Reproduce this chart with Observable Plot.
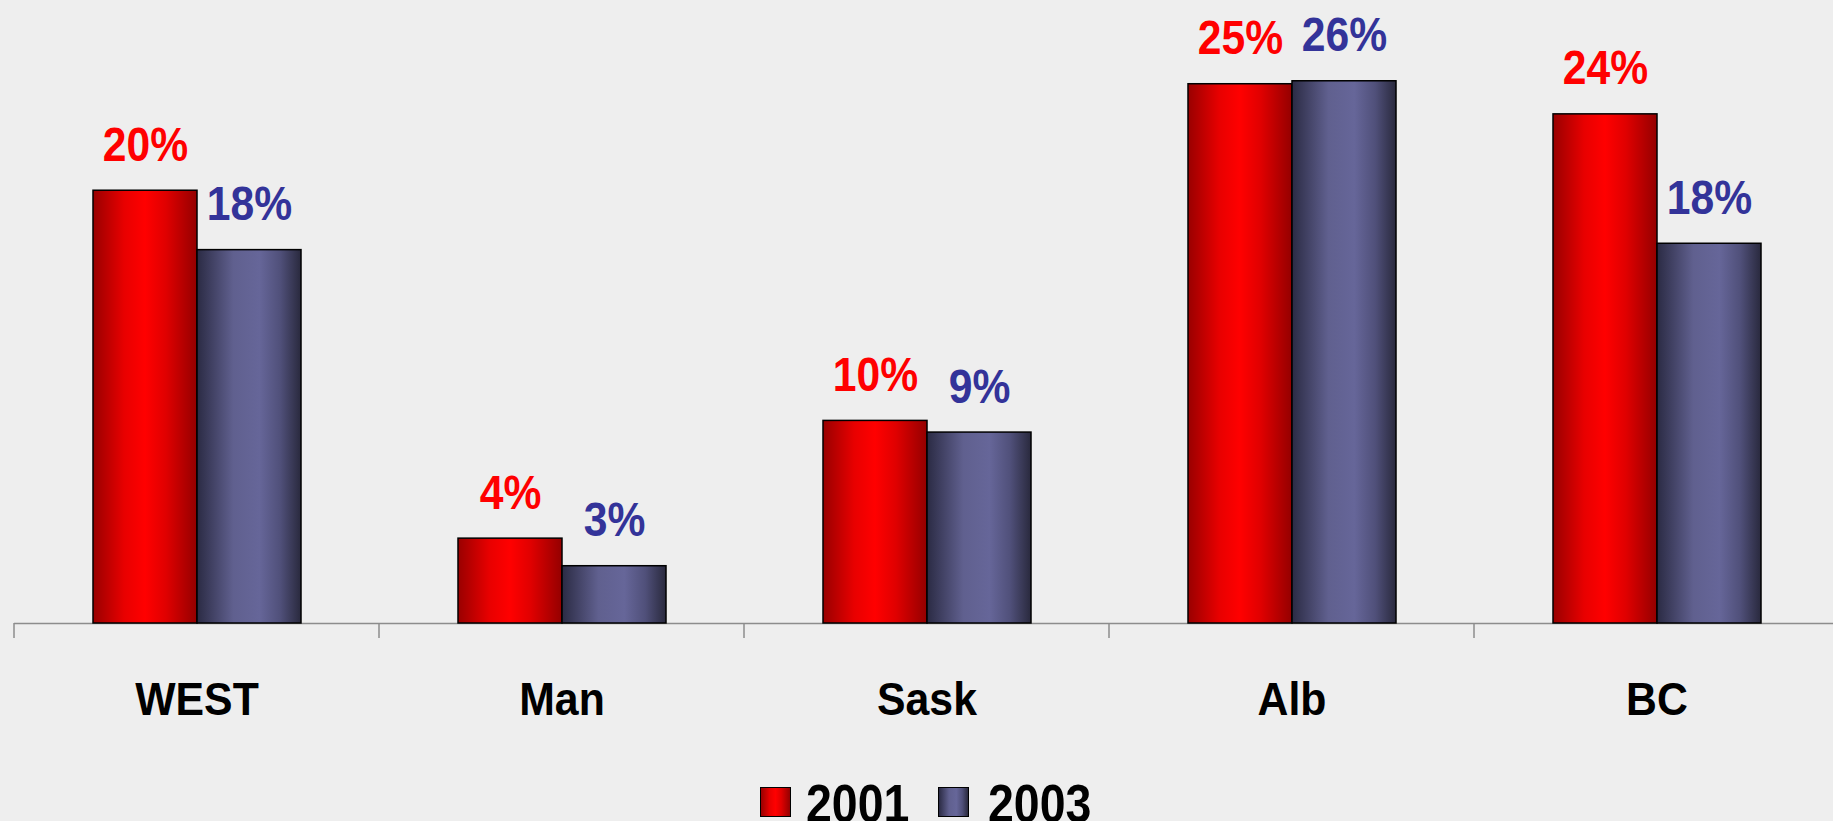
<!DOCTYPE html>
<html>
<head>
<meta charset="utf-8">
<script src="https://cdn.jsdelivr.net/npm/d3@7"></script>
<script src="https://cdn.jsdelivr.net/npm/@observablehq/plot@0.6"></script>
<style>
  html, body { margin: 0; padding: 0; background: #eeeeee; overflow: hidden; width: 1833px; height: 821px; }
  #chart { position: absolute; left: 0; top: 0; }
  #legend { position: absolute; left: 0; top: 0; width: 1833px; height: 821px; pointer-events: none;
            font-family: "Liberation Sans", Arial, sans-serif; font-weight: bold; font-size: 54px; line-height: 54px; color: #000; }
  .sw { position: absolute; top: 787px; width: 29px; height: 28px; border: 1.5px solid #000; }
  .lbl { position: absolute; top: 776px; transform: scaleX(0.86); transform-origin: 0 0; white-space: nowrap; }
</style>
</head>
<body>
<div id="chart"></div>
<div id="legend"></div>
<script>
const categories = ["WEST", "Man", "Sask", "Alb", "BC"];
const years = ["2001", "2003"];
const values2001 = [20.4, 4.0, 9.55, 25.42, 24.0];
const values2003 = [17.6, 2.7, 9.0, 25.56, 17.9];
const labels2001 = ["20%", "4%", "10%", "25%", "24%"];
const labels2003 = ["18%", "3%", "9%", "26%", "18%"];

const rows2001 = categories.map((c, i) => ({cat: c, year: years[0], value: values2001[i], label: labels2001[i]}));
const rows2003 = categories.map((c, i) => ({cat: c, year: years[1], value: values2003[i], label: labels2003[i]}));

const FONT = '"Liberation Sans", Arial, sans-serif';
const RED = "#ff0000", BLUE = "#333399";

const plot = Plot.plot({
  width: 1833,
  height: 735,
  marginLeft: 13,
  marginRight: -7,
  marginTop: 29,
  marginBottom: 112,
  style: {background: "transparent", overflow: "visible", fontFamily: FONT},
  fx: {domain: categories, padding: 0, label: null},
  x: {domain: years, paddingInner: 0, paddingOuter: 0.747, axis: null},
  y: {domain: [0, 28], axis: null},
  marks: [
    Plot.ruleY([0], {stroke: "#8c8c8c", strokeWidth: 1.5}),
    Plot.barY(rows2001, {fx: "cat", x: "year", y: "value", fill: "url(#gRed)", stroke: "#000", strokeWidth: 1.5}),
    Plot.barY(rows2003, {fx: "cat", x: "year", y: "value", fill: "url(#gBlue)", stroke: "#000", strokeWidth: 1.5}),
    Plot.text(rows2001, {fx: "cat", x: "year", y: "value", text: "label", fill: RED, dy: -30, lineAnchor: "bottom", fontSize: 49, fontWeight: "bold", fontFamily: FONT, className: "pct"}),
    Plot.text(rows2003, {fx: "cat", x: "year", y: "value", text: "label", fill: BLUE, dy: -30, lineAnchor: "bottom", fontSize: 49, fontWeight: "bold", fontFamily: FONT, className: "pct"}),
    Plot.axisFx({anchor: "bottom", tickSize: 0, tickPadding: 59, fontSize: 46, fontWeight: "bold", fontFamily: FONT, fill: "#000", label: null, className: "cat"})
  ]
});

document.getElementById("chart").appendChild(plot);

const svg = d3.select(plot);

// narrow the bold sans glyphs horizontally to match the reference's condensed face
function squeeze(sel, k) {
  sel.each(function() {
    const t = this.getAttribute("transform") || "";
    this.setAttribute("transform", t + ` scale(${k},1)`);
  });
}
squeeze(svg.selectAll("g.pct text"), 0.87);
squeeze(svg.selectAll("g.cat text"), 0.93);

// gradient definitions
const defs = svg.insert("defs", ":first-child");
function grad(id, stops) {
  const g = defs.append("linearGradient").attr("id", id).attr("x1", 0).attr("x2", 1).attr("y1", 0).attr("y2", 0);
  stops.forEach(([o, c]) => g.append("stop").attr("offset", o).attr("stop-color", c));
}
grad("gRed", [[0, "#990000"], [0.3, "#e80000"], [0.5, "#ff0000"], [0.7, "#e00000"], [1, "#940000"]]);
grad("gBlue", [[0, "#2b2b44"], [0.35, "#60608f"], [0.6, "#666699"], [0.8, "#50507a"], [1, "#29293d"]]);

// boundary ticks on the category axis, from the fx scale
const fx = plot.scale("fx");
const y = plot.scale("y");
const y0 = y.apply(0);
const bounds = categories.map(c => fx.apply(c)).concat([fx.apply(categories[categories.length - 1]) + fx.bandwidth]);
svg.append("g").selectAll("line").data(bounds).join("line")
  .attr("x1", d => d).attr("x2", d => d)
  .attr("y1", y0).attr("y2", y0 + 15)
  .attr("stroke", "#8c8c8c").attr("stroke-width", 1.5);

// legend
const legend = d3.select("#legend");
const legendItems = [
  [years[0], "linear-gradient(to right, #990000, #e80000 30%, #ff0000 50%, #e00000 70%, #940000)", 760],
  [years[1], "linear-gradient(to right, #2b2b44, #60608f 35%, #666699 60%, #50507a 80%, #29293d)", 938]
];
legendItems.forEach(([t, bg, left], i) => {
  legend.append("div").attr("class", "sw").style("background", bg).style("left", left + "px");
  legend.append("div").attr("class", "lbl").style("left", (left + (i ? 50 : 46)) + "px").text(t);
});
</script>
</body>
</html>
